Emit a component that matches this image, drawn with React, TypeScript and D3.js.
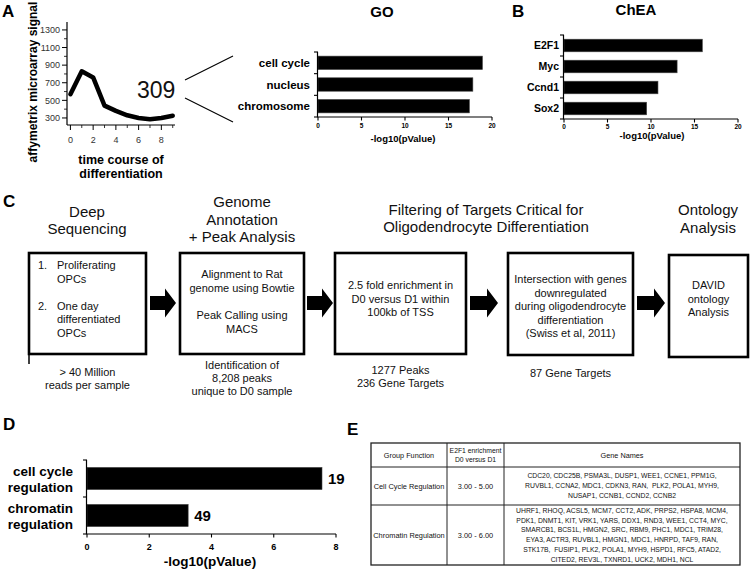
import React from 'react';
import * as d3 from 'd3';

// ---------- DATA ----------
const timePoints = [0, 1, 2, 3, 4, 5, 6, 7, 8, 9];
const signalValues = [570, 830, 760, 440, 380, 330, 300, 285, 300, 325];
const signalTicks = [300, 500, 700, 900, 1100, 1300];
const signalMinorTicks = [400, 600, 800, 1000, 1200];
const timeTicks = [0, 2, 4, 6, 8];
const timeMinorTicks = [1, 3, 5, 7, 9];
const clusterSize = '309';

const goTerms = ['cell cycle', 'nucleus', 'chromosome'];
const goValues = [18.9, 17.8, 17.4];
const cheaFactors = ['E2F1', 'Myc', 'Ccnd1', 'Sox2'];
const cheaValues = [15.9, 13.0, 10.8, 9.5];
const pTicks20 = [0, 5, 10, 15, 20];

const davidTerms = [['cell cycle', 'regulation'], ['chromatin', 'regulation']];
const davidValues = [7.55, 3.25];
const davidCounts = ['19', '49'];
const davidTicks = [0, 2, 4, 6, 8];

const stepTitles = [
  ['Deep', 'Sequencing'],
  ['Genome', 'Annotation', '+ Peak Analysis'],
  ['Filtering of Targets Critical for', 'Oligodendrocyte Differentiation'],
  ['Ontology', 'Analysis'],
];
const box1Items = [
  ['1.', 'Proliferating'], ['', 'OPCs'], ['', ''], ['2.', 'One day'], ['', 'differentiated'], ['', 'OPCs'],
];
const boxTexts = [
  ['Alignment to Rat', 'genome using Bowtie', '', 'Peak Calling using', 'MACS'],
  ['2.5 fold enrichment in', 'D0 versus D1 within', '100kb of TSS'],
  ['Intersection with genes', 'downregulated', 'during oligodendrocyte', 'differentiation', '(Swiss et al, 2011)'],
  ['DAVID', 'ontology', 'Analysis'],
];
const stepCaptions = [
  ['> 40 Million', 'reads per sample'],
  ['Identification of', '8,208 peaks', 'unique to D0 sample'],
  ['1277 Peaks', '236 Gene Targets'],
  ['87 Gene Targets'],
];

const tableHeaders = [['Group Function'], ['E2F1 enrichment', 'D0 versus D1'], ['Gene Names']];
const groupFunctions = ['Cell Cycle Regulation', 'Chromatin Regulation'];
const enrichmentRanges = ['3.00 - 5.00', '3.00 - 6.00'];
const geneLines = [
  [
    'CDC20, CDC25B, PSMA3L, DUSP1, WEE1, CCNE1, PPM1G,',
    'RUVBL1, CCNA2, MDC1, CDKN3, RAN,  PLK2, POLA1, MYH9,',
    'NUSAP1, CCNB1, CCND2, CCNB2',
  ],
  [
    'UHRF1, RHOQ, ACSL5, MCM7, CCT2, ADK, PRPS2, HSPA8, MCM4,',
    'PDK1, DNMT1, KIT, VRK1, YARS, DDX1, RND3, WEE1, CCT4, MYC,',
    'SMARCB1, BCS1L, HMGN2, SRC, RBM9, PHC1, MDC1, TRIM28,',
    'EYA3, ACTR3, RUVBL1, HMGN1, MDC1, HNRPD, TAF9, RAN,',
    'STK17B,  FUSIP1, PLK2, POLA1, MYH9, HSPD1, RFC5, ATAD2,',
    'CITED2, REV3L, TXNRD1, UCK2, MDH1, NCL',
  ],
];

const FONT = '"Liberation Sans", Arial, Helvetica, sans-serif';

function HBar({ cats, vals, x, y, labelX, labelSize, tickY, titleX, titleY, titleSize, tickSize, xTicks, labelFn }: any) {
  const [r0, r1] = y.range();
  const step = (r1 - r0) / cats.length;
  const [x0, x1] = x.range();
  return (
    <g>
      {cats.map((c: any, i: number) => (
        <rect key={'b' + i} x={x(0)} y={y(c)} width={x(vals[i]) - x(0)} height={y.bandwidth()} fill="#000" stroke="#444" strokeWidth={0.6} />
      ))}
      <line x1={x0 - 0.5} x2={x0 - 0.5} y1={r0} y2={r1} stroke="#000" strokeWidth={1.2} />
      {d3.range(cats.length + 1).map(i => (
        <line key={'yt' + i} x1={x0 - 4} x2={x0} y1={r0 + i * step} y2={r0 + i * step} stroke="#000" strokeWidth={1.1} />
      ))}
      <line x1={x0 - 0.5} x2={x1} y1={r1} y2={r1} stroke="#000" strokeWidth={1.2} />
      {xTicks.map((t: number) => (
        <g key={'xt' + t}>
          <line x1={x(t)} x2={x(t)} y1={r1} y2={r1 + 3.5} stroke="#000" strokeWidth={1.1} />
          <text x={x(t)} y={tickY} textAnchor="middle" fontSize={tickSize} fontWeight="bold">{t}</text>
        </g>
      ))}
      <text x={titleX} y={titleY} textAnchor="middle" fontSize={titleSize} fontWeight="bold">-log10(pValue)</text>
      {cats.map((c: any, i: number) => labelFn ? labelFn(c, i) : (
        <text key={'l' + i} x={labelX} y={(y(c) as number) + y.bandwidth() / 2} dy="0.36em" textAnchor="end" fontSize={labelSize} fontWeight="bold">{c}</text>
      ))}
    </g>
  );
}

export default function App() {
  // Panel A
  const xA = d3.scaleLinear().domain([-0.3, 9.2]).range([67, 175]);
  const yA = d3.scaleLinear().domain([220, 1390]).range([125, 22]);
  const linePath = d3.line<number>().x((_, i) => xA(timePoints[i])).y(d => yA(d))(signalValues) || '';

  // GO
  const xGO = d3.scaleLinear().domain([0, 20]).range([318, 492]);
  const yGO = d3.scaleBand<string>().domain(goTerms).range([52, 117]).paddingInner(0.38).paddingOuter(0.19);
  // ChEA
  const xCh = d3.scaleLinear().domain([0, 20]).range([564, 738]);
  const yCh = d3.scaleBand<string>().domain(cheaFactors).range([35, 119]).paddingInner(0.4).paddingOuter(0.2);
  // D
  const dKeys = davidTerms.map(t => t.join(' '));
  const xD = d3.scaleLinear().domain([0, 8]).range([87, 336]);
  const yD = d3.scaleBand<string>().domain(dKeys).range([460, 534]).paddingInner(0.4).paddingOuter(0.2);

  // Flow layout
  const boxes = [
    { x0: 29, x1: 146, y0: 253, y1: 354 },
    { x0: 180, x1: 304, y0: 253, y1: 354 },
    { x0: 335, x1: 466, y0: 253, y1: 354 },
    { x0: 508, x1: 633, y0: 253, y1: 355 },
    { x0: 669, x1: 748, y0: 255, y1: 357 },
  ];
  const arrows = [[150, 176], [307, 333], [470, 498], [637, 665]];
  const arrowPath = (a: number, b: number, cy: number) => {
    const p = d3.path();
    p.moveTo(a, cy - 7); p.lineTo(b - 11, cy - 7); p.lineTo(b - 11, cy - 14.5); p.lineTo(b, cy);
    p.lineTo(b - 11, cy + 14.5); p.lineTo(b - 11, cy + 7); p.lineTo(a, cy + 7); p.closePath();
    return p.toString();
  };
  const titleLayout = [
    { cx: 87, y: 217, lh: 16.5 },
    { cx: 242, y: 207, lh: 17.5 },
    { cx: 486, y: 215, lh: 17 },
    { cx: 708, y: 215, lh: 17.5 },
  ];
  const boxTextStart = [278, 289, 283, 289];
  const captionStart = [376, 369, 374, 377];

  // Table layout
  const cols = [371, 447, 504, 740];
  const rows = [443, 467, 505, 565];

  return (
    <svg width={750} height={570} style={{ position: 'absolute', left: 0, top: 0, background: '#fff' }} fontFamily={FONT} fill="#000">
      <rect width={750} height={570} fill="#fff" />
      {/* Panel labels */}
      <text x={2} y={17} fontSize={17} fontWeight="bold">A</text>
      <text x={512} y={17} fontSize={17} fontWeight="bold">B</text>
      <text x={3} y={207} fontSize={17} fontWeight="bold">C</text>
      <text x={3} y={430} fontSize={17} fontWeight="bold">D</text>
      <text x={347} y={435} fontSize={17} fontWeight="bold">E</text>

      {/* Panel A line chart */}
      <g>
        <line x1={67} x2={67} y1={22} y2={125} stroke="#000" strokeWidth={1.2} />
        <line x1={67} x2={175} y1={125} y2={125} stroke="#000" strokeWidth={1.2} />
        {signalTicks.map(t => (
          <g key={'ya' + t}>
            <line x1={62} x2={67} y1={yA(t)} y2={yA(t)} stroke="#000" strokeWidth={1} />
            <text x={60} y={yA(t)} dy="0.35em" textAnchor="end" fontSize={9} fill="#333">{t}</text>
          </g>
        ))}
        {signalMinorTicks.map(t => (
          <line key={'yam' + t} x1={64} x2={67} y1={yA(t)} y2={yA(t)} stroke="#000" strokeWidth={0.8} />
        ))}
        {timeTicks.map(t => (
          <g key={'xa' + t}>
            <line x1={xA(t)} x2={xA(t)} y1={125} y2={130} stroke="#000" strokeWidth={1} />
            <text x={xA(t)} y={143} textAnchor="middle" fontSize={9} fill="#333">{t}</text>
          </g>
        ))}
        {timeMinorTicks.map(t => (
          <line key={'xam' + t} x1={xA(t)} x2={xA(t)} y1={125} y2={128} stroke="#000" strokeWidth={0.8} />
        ))}
        <path d={linePath} fill="none" stroke="#000" strokeWidth={4.5} strokeLinejoin="round" strokeLinecap="round" />
        <text x={137} y={98} fontSize={23} fill="#111">{clusterSize}</text>
        <text transform="translate(37,82) rotate(-90)" textAnchor="middle" fontSize={12} fontWeight="bold">affymetrix microarray signal</text>
        <text x={121} y={164} textAnchor="middle" fontSize={12.5} fontWeight="bold">time course of</text>
        <text x={121} y={178} textAnchor="middle" fontSize={12.5} fontWeight="bold">differentiation</text>
        <line x1={185} y1={80} x2={233} y2={56} stroke="#000" strokeWidth={1.2} />
        <line x1={185} y1={98} x2={233} y2={122} stroke="#000" strokeWidth={1.2} />
      </g>

      {/* GO */}
      <text x={382} y={17} textAnchor="middle" fontSize={15} fontWeight="bold">GO</text>
      <HBar cats={goTerms} vals={goValues} x={xGO} y={yGO} labelX={310} labelSize={11.5}
        tickY={128} tickSize={6.5} titleX={403} titleY={142} titleSize={9.5} xTicks={pTicks20} />

      {/* ChEA */}
      <text x={636} y={15} textAnchor="middle" fontSize={15} fontWeight="bold">ChEA</text>
      <HBar cats={cheaFactors} vals={cheaValues} x={xCh} y={yCh} labelX={559} labelSize={10.5}
        tickY={129} tickSize={6.5} titleX={652} titleY={139} titleSize={9.5} xTicks={pTicks20} />

      {/* Panel C flow */}
      {stepTitles.map((lines, i) => (
        <g key={'st' + i}>
          {lines.map((l, j) => (
            <text key={j} x={titleLayout[i].cx} y={titleLayout[i].y + j * titleLayout[i].lh} textAnchor="middle" fontSize={15} fill="#111">{l}</text>
          ))}
        </g>
      ))}
      {boxes.map((b, i) => (
        <rect key={'bx' + i} x={b.x0} y={b.y0} width={b.x1 - b.x0} height={b.y1 - b.y0} fill="none" stroke="#000" strokeWidth={2.6} />
      ))}
      <line x1={29} x2={29} y1={253} y2={364} stroke="#000" strokeWidth={1.5} />
      {arrows.map((a, i) => (
        <path key={'ar' + i} d={arrowPath(a[0], a[1], 303)} fill="#000" />
      ))}
      {box1Items.map((it, j) => (
        <g key={'b1' + j}>
          <text x={38} y={269 + j * 13.5} fontSize={11} fill="#111">{it[0]}</text>
          <text x={57} y={269 + j * 13.5} fontSize={11} fill="#111">{it[1]}</text>
        </g>
      ))}
      {boxTexts.map((lines, i) => {
        const b = boxes[i + 1];
        const lh = i === 0 ? 13.8 : 13.5;
        return (
          <g key={'bt' + i}>
            {lines.map((l, j) => (
              <text key={j} x={(b.x0 + b.x1) / 2} y={boxTextStart[i] + j * lh} textAnchor="middle" fontSize={11} fill="#111">{l}</text>
            ))}
          </g>
        );
      })}
      {stepCaptions.map((lines, i) => {
        const b = boxes[i];
        return (
          <g key={'cp' + i}>
            {lines.map((l, j) => (
              <text key={j} x={(b.x0 + b.x1) / 2} y={captionStart[i] + j * 13.2} textAnchor="middle" fontSize={11} fill="#111">{l}</text>
            ))}
          </g>
        );
      })}

      {/* Panel D */}
      <HBar cats={dKeys} vals={davidValues} x={xD} y={yD} labelX={73} labelSize={13.5}
        tickY={550} tickSize={9} titleX={210} titleY={566} titleSize={13.5} xTicks={davidTicks}
        labelFn={(c: string, i: number) => {
          const cy = (yD(c) as number) + yD.bandwidth() / 2;
          return (
            <g key={'dl' + i}>
              <text x={73} y={cy - 2.5} textAnchor="end" fontSize={13.5} fontWeight="bold">{davidTerms[i][0]}</text>
              <text x={73} y={cy + 13.5} textAnchor="end" fontSize={13.5} fontWeight="bold">{davidTerms[i][1]}</text>
              <text x={xD(davidValues[i]) + 6} y={cy} dy="0.36em" fontSize={15} fontWeight="bold">{davidCounts[i]}</text>
            </g>
          );
        }} />

      {/* Panel E table */}
      <g fontSize={7.4} fill="#111">
        <rect x={cols[0]} y={rows[0]} width={cols[3] - cols[0]} height={rows[3] - rows[0]} fill="none" stroke="#222" strokeWidth={1.3} />
        {rows.slice(1, 3).map((r, i) => (
          <line key={'rl' + i} x1={cols[0]} x2={cols[3]} y1={r} y2={r} stroke="#222" strokeWidth={1} />
        ))}
        {cols.slice(1, 3).map((c, i) => (
          <line key={'cl' + i} x1={c} x2={c} y1={rows[0]} y2={rows[3]} stroke="#222" strokeWidth={1} />
        ))}
        {tableHeaders.map((h, i) => {
          const cx = (cols[i] + cols[i + 1]) / 2;
          const cy = (rows[0] + rows[1]) / 2;
          return h.map((l, j) => (
            <text key={'h' + i + j} x={cx} y={cy + (j - (h.length - 1) / 2) * 8.5} dy="0.35em" textAnchor="middle" fontSize={h.length > 1 ? 6.8 : 7.3}>{l}</text>
          ));
        })}
        {groupFunctions.map((g, i) => {
          const cy = (rows[i + 1] + rows[i + 2]) / 2;
          return (
            <g key={'row' + i}>
              <text x={(cols[0] + cols[1]) / 2} y={cy} dy="0.35em" textAnchor="middle">{g}</text>
              <text x={(cols[1] + cols[2]) / 2} y={cy} dy="0.35em" textAnchor="middle">{enrichmentRanges[i]}</text>
              {geneLines[i].map((l, j) => (
                <text key={j} x={(cols[2] + cols[3]) / 2} y={cy + (j - (geneLines[i].length - 1) / 2) * 9.9} dy="0.35em" textAnchor="middle" fontSize={6.8} style={{ whiteSpace: 'pre' }}>{l}</text>
              ))}
            </g>
          );
        })}
      </g>
    </svg>
  );
}
